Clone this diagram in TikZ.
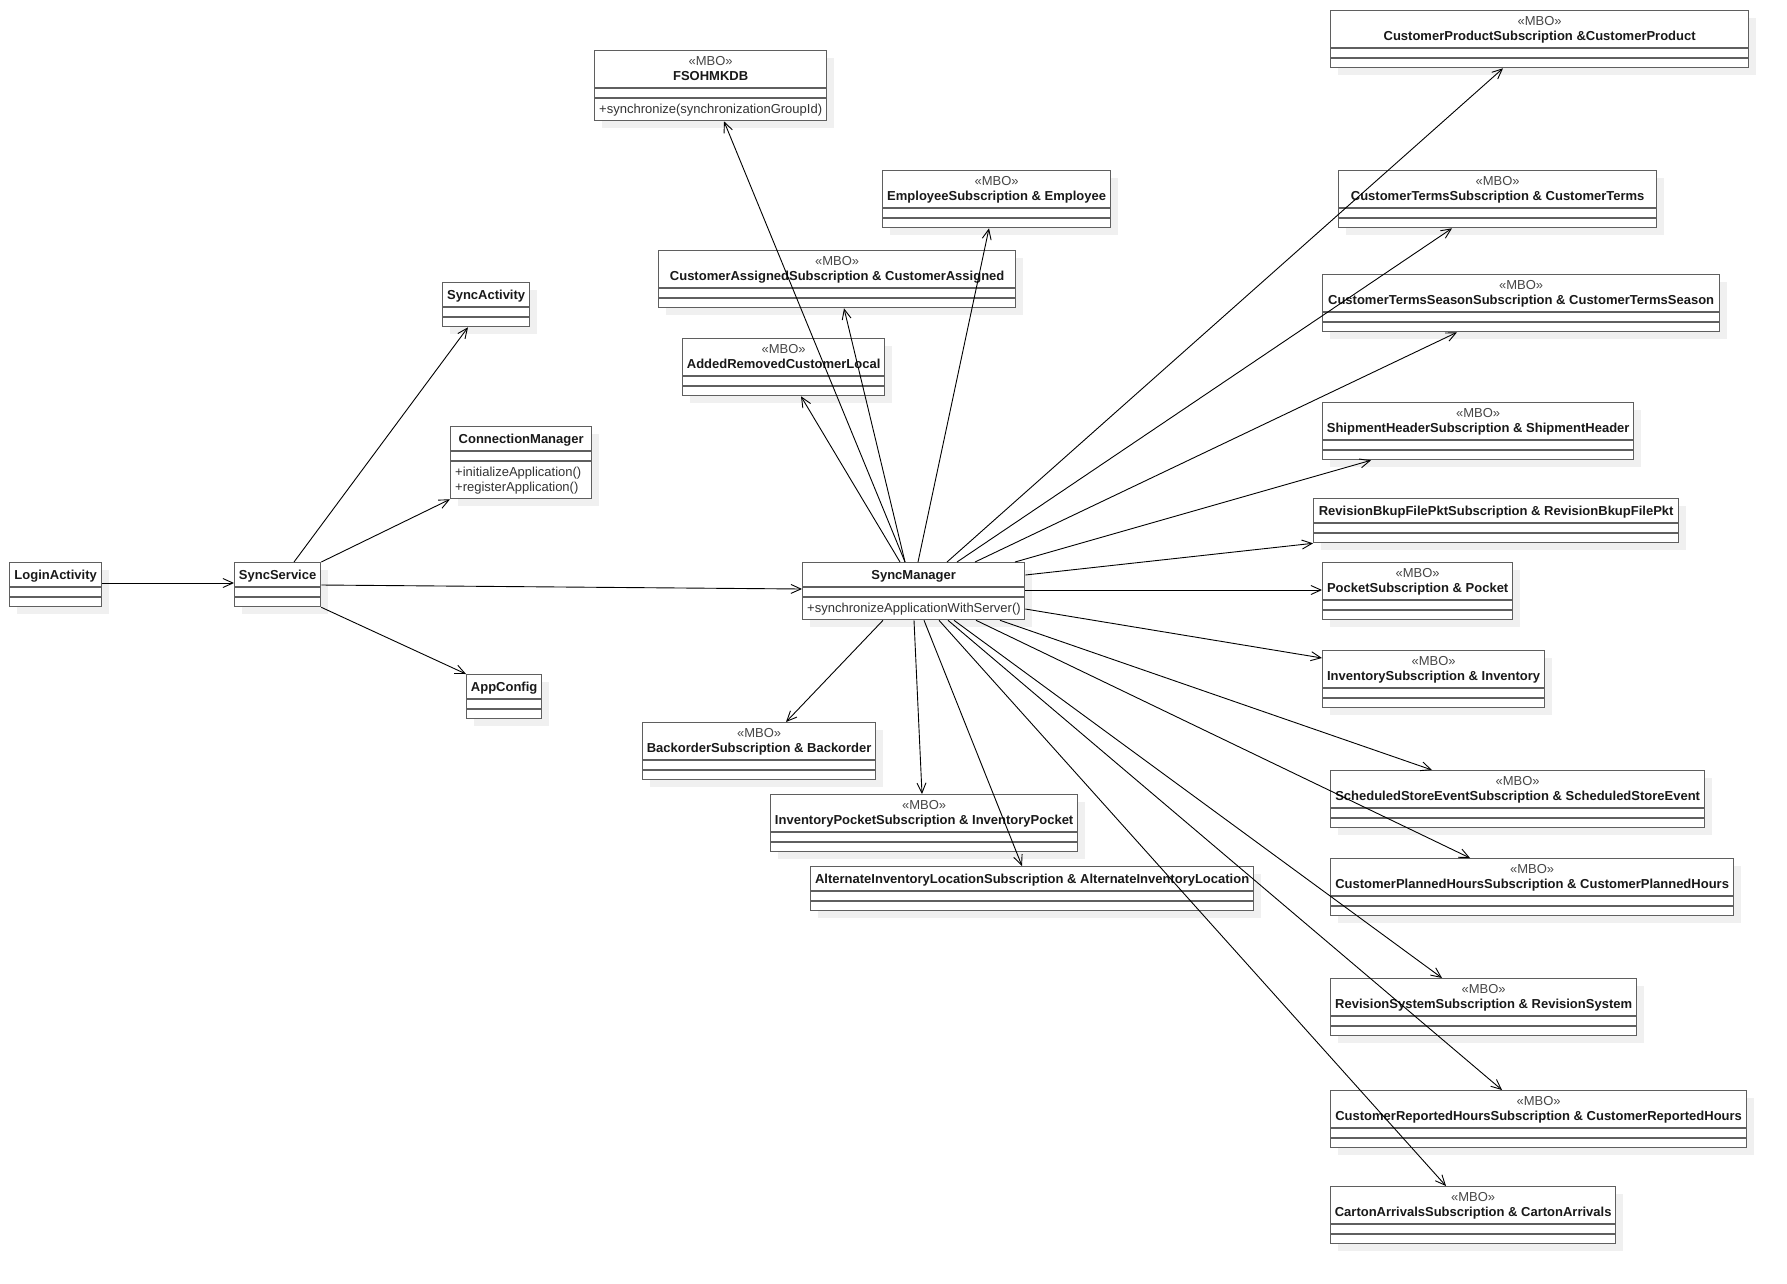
\documentclass[tikz,border=0pt]{standalone}
\usepackage{fontspec}
\setmainfont{Liberation Sans}
\usetikzlibrary{calc, arrows.meta, shadows}
\definecolor{boxline}{RGB}{95,95,95}
\definecolor{boxshadow}{RGB}{240,240,240}
\definecolor{stereotext}{RGB}{70,70,70}
\tikzset{
  classbox/.style={draw=boxline, line width=1.3pt, fill=white, inner sep=0pt, anchor=north west,
    drop shadow={shadow xshift=7pt, shadow yshift=-7pt, fill=boxshadow, opacity=1}},
  divider/.style={draw=boxline, line width=1.3pt},
  stereo/.style={anchor=base, inner sep=0pt, text=stereotext, font=\fontsize{13}{15}\selectfont},
  classname/.style={anchor=base, inner sep=0pt, text=black!90, font=\fontsize{13}{15}\selectfont\bfseries},
  member/.style={anchor=base west, inner sep=0pt, text=black!80, font=\fontsize{13}{15}\selectfont},
  assoc/.style={draw=black, line width=0.9pt, -{Straight Barb[length=10pt,width=9pt]}},
}

\begin{document}
\begin{tikzpicture}[x=1pt, y=-1pt]
      \useasboundingbox (0,0) rectangle (1787,1283);
      % MBO classes
      \foreach \nm/\x/\y/\w/\txt in {
          emp/882/170/228/EmployeeSubscription \& Employee,
          cas/658/250/357/CustomerAssignedSubscription \& CustomerAssigned,
          arc/682/338/202/AddedRemovedCustomerLocal,
          bko/642/722/233/BackorderSubscription \& Backorder,
          ipk/770/794/307/InventoryPocketSubscription \& InventoryPocket,
          cpr/1330/10/418/CustomerProductSubscription \&CustomerProduct,
          ctm/1338/170/318/CustomerTermsSubscription \& CustomerTerms,
          cts/1322/274/397/CustomerTermsSeasonSubscription \& CustomerTermsSeason,
          shp/1322/402/311/ShipmentHeaderSubscription \& ShipmentHeader,
          pkt/1322/562/190/PocketSubscription \& Pocket,
          inv/1322/650/222/InventorySubscription \& Inventory,
          sse/1330/770/374/ScheduledStoreEventSubscription \& ScheduledStoreEvent,
          cph/1330/858/403/CustomerPlannedHoursSubscription \& CustomerPlannedHours,
          rvs/1330/978/306/RevisionSystemSubscription \& RevisionSystem,
          crh/1330/1090/416/CustomerReportedHoursSubscription \& CustomerReportedHours,
          car/1330/1186/285/CartonArrivalsSubscription \& CartonArrivals} {
        \node[classbox, minimum width=\w pt, minimum height=57pt] (\nm) at (\x,\y) {};
        \node[stereo] at ($(\nm.north)+(0,15.5)$) {«MBO»};
        \node[classname] at ($(\nm.north)+(0,30)$) {\txt};
        \draw[divider] ($(\nm.north west)+(0,38)$) -- ($(\nm.north east)+(0,38)$);
        \draw[divider] ($(\nm.north west)+(0,48)$) -- ($(\nm.north east)+(0,48)$);
      }
      % plain classes
      \foreach \nm/\x/\y/\w/\txt in {
          login/9/562/92/LoginActivity,
          svc/234/562/86/SyncService,
          act/442/282/87/SyncActivity,
          cfg/466/674/75/AppConfig,
          rbk/1313/498/365/RevisionBkupFilePktSubscription \& RevisionBkupFilePkt,
          ail/810/866/443/AlternateInventoryLocationSubscription \& AlternateInventoryLocation} {
        \node[classbox, minimum width=\w pt, minimum height=44pt] (\nm) at (\x,\y) {};
        \node[classname] at ($(\nm.north)+(0,17.5)$) {\txt};
        \draw[divider] ($(\nm.north west)+(0,25)$) -- ($(\nm.north east)+(0,25)$);
        \draw[divider] ($(\nm.north west)+(0,35)$) -- ($(\nm.north east)+(0,35)$);
      }
      % classes with operations
      \node[classbox, minimum width=232pt, minimum height=70pt] (fso) at (594,50) {};
      \node[stereo] at ($(fso.north)+(0,15.5)$) {«MBO»};
      \node[classname] at ($(fso.north)+(0,30)$) {FSOHMKDB};
      \draw[divider] ($(fso.north west)+(0,38)$) -- ($(fso.north east)+(0,38)$);
      \draw[divider] ($(fso.north west)+(0,48)$) -- ($(fso.north east)+(0,48)$);
      \node[member] at ($(fso.north west)+(5,63)$) {+synchronize(synchronizationGroupId)};

      \node[classbox, minimum width=222pt, minimum height=57pt] (sm) at (802,562) {};
      \node[classname] at ($(sm.north)+(0,17.5)$) {SyncManager};
      \draw[divider] ($(sm.north west)+(0,25)$) -- ($(sm.north east)+(0,25)$);
      \draw[divider] ($(sm.north west)+(0,35)$) -- ($(sm.north east)+(0,35)$);
      \node[member] at ($(sm.north west)+(5,50)$) {+synchronizeApplicationWithServer()};

      \node[classbox, minimum width=141pt, minimum height=72pt] (conn) at (450,426) {};
      \node[classname] at ($(conn.north)+(0,17.5)$) {ConnectionManager};
      \draw[divider] ($(conn.north west)+(0,25)$) -- ($(conn.north east)+(0,25)$);
      \draw[divider] ($(conn.north west)+(0,35)$) -- ($(conn.north east)+(0,35)$);
      \node[member] at ($(conn.north west)+(5,50)$) {+initializeApplication()};
      \node[member] at ($(conn.north west)+(5,65)$) {+registerApplication()};

      % associations
      \draw[assoc] ($(login.north east)+(0,21)$) -- ($(svc.north west)+(0,21)$);
      \draw[assoc] ($(svc.north west)+(60,0)$) -- ($(act.south west)+(26,0)$);
      \draw[assoc] (svc.north east) -- (conn.south west);
      \draw[assoc] (svc.south east) -- (cfg.north west);
      \draw[assoc] ($(svc.north east)+(0,23)$) -- ($(sm.north west)+(0,27)$);

      \draw[assoc] ($(sm.north west)+(103,0)$) -- ($(fso.south west)+(130,0)$);
      \draw[assoc] ($(sm.north west)+(103,0)$) -- ($(cas.south west)+(186,0)$);
      \draw[assoc] ($(sm.north west)+(98,0)$) -- ($(arc.south west)+(119,0)$);
      \draw[assoc] ($(sm.north west)+(116,0)$) -- ($(emp.south west)+(107,0)$);
      \draw[assoc] ($(sm.north west)+(145,0)$) -- ($(cpr.south west)+(173,0)$);
      \draw[assoc] ($(sm.north west)+(155,0)$) -- ($(ctm.south west)+(114,0)$);
      \draw[assoc] ($(sm.north west)+(173,0)$) -- ($(cts.south west)+(135,0)$);
      \draw[assoc] ($(sm.north west)+(213,0)$) -- ($(shp.south west)+(49,0)$);
      \draw[assoc] ($(sm.north east)+(0,13)$) -- (rbk.south west);
      \draw[assoc] ($(sm.north east)+(0,28)$) -- ($(pkt.north west)+(0,28)$);
      \draw[assoc] ($(sm.north east)+(0,47)$) -- ($(inv.north west)+(0,8)$);
      \draw[assoc] ($(sm.south west)+(198,0)$) -- ($(sse.north west)+(102,0)$);
      \draw[assoc] ($(sm.south west)+(174,0)$) -- ($(cph.north west)+(140,0)$);
      \draw[assoc] ($(sm.south west)+(152,0)$) -- ($(rvs.north west)+(112,0)$);
      \draw[assoc] ($(sm.south west)+(146,0)$) -- ($(crh.north west)+(172,0)$);
      \draw[assoc] ($(sm.south west)+(137,0)$) -- ($(car.north west)+(116,0)$);
      \draw[assoc] ($(sm.south west)+(122,0)$) -- ($(ail.north west)+(212,0)$);
      \draw[assoc] ($(sm.south west)+(112,0)$) -- ($(ipk.north west)+(152,0)$);
      \draw[assoc] ($(sm.south west)+(81,0)$) -- ($(bko.north west)+(144,0)$);
    \end{tikzpicture}
\end{document}
